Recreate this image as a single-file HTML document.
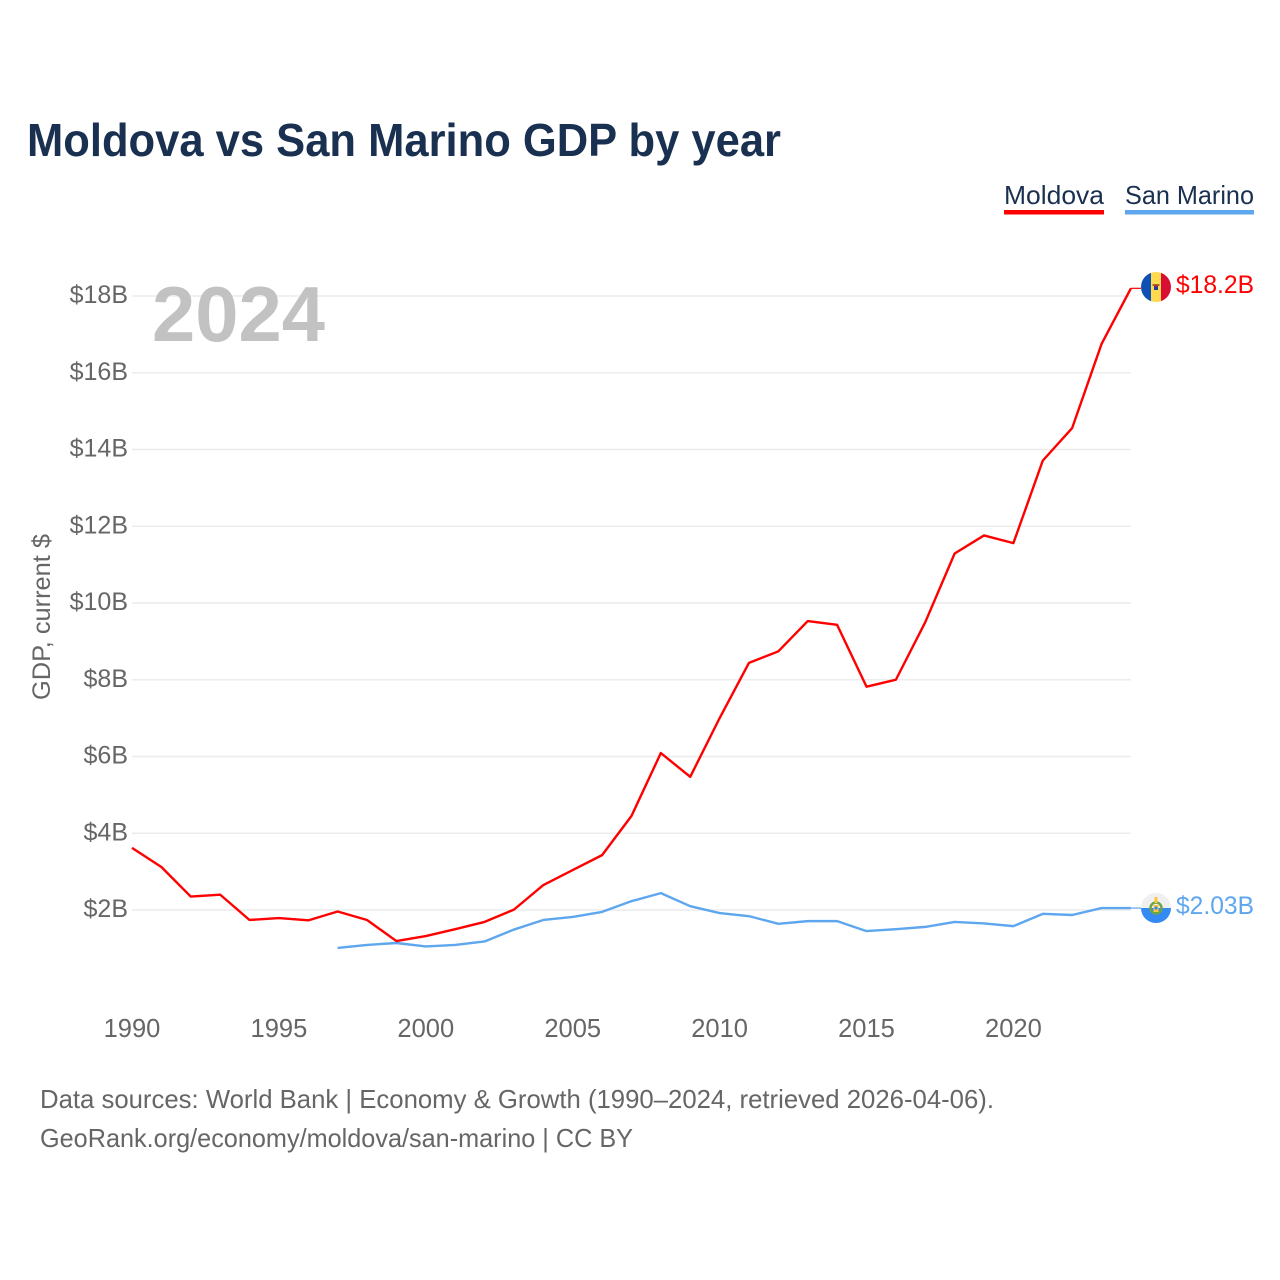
<!DOCTYPE html>
<html lang="en">
<head>
<meta charset="utf-8">
<title>Moldova vs San Marino GDP by year</title>
<style>
html,body{margin:0;padding:0;background:#fff;width:1280px;height:1280px;overflow:hidden}
svg{display:block}
text{font-family:"Liberation Sans",sans-serif}
</style>
</head>
<body>
<svg id="chart" xmlns="http://www.w3.org/2000/svg" width="1280" height="1280" viewBox="0 0 1280 1280">
  <rect x="0" y="0" width="1280" height="1280" fill="#fff"/>
  <text x="27" y="156" font-size="46" font-weight="700" fill="#1a3050" textLength="754" lengthAdjust="spacingAndGlyphs">Moldova vs San Marino GDP by year</text>

  <text x="1004" y="204" font-size="26" fill="#1a3050" textLength="100" lengthAdjust="spacingAndGlyphs">Moldova</text>
  <rect x="1004" y="210" width="100" height="4.5" fill="#ff0000"/>
  <text x="1125" y="204" font-size="26" fill="#1a3050" textLength="129" lengthAdjust="spacingAndGlyphs">San Marino</text>
  <rect x="1125" y="210" width="129" height="4.5" fill="#5ea6ee"/>

  <g id="grid"></g>
  <g id="yticks"></g>
  <g id="xticks"></g>

  <text x="152" y="341" font-size="78" font-weight="700" fill="#c2c2c2" textLength="173" lengthAdjust="spacingAndGlyphs">2024</text>
  <text transform="translate(50,700) rotate(-90)" x="0" y="0" font-size="25" fill="#666" textLength="166" lengthAdjust="spacingAndGlyphs">GDP, current $</text>

  <g id="series"></g>

  <defs>
    <clipPath id="clip-md"><circle cx="1156" cy="287" r="15"/></clipPath>
    <clipPath id="clip-sm"><circle cx="1156" cy="908" r="15"/></clipPath>
  </defs>
  <g id="flag-md" clip-path="url(#clip-md)">
    <rect x="1141" y="272" width="10" height="30" fill="#0f52b4"/>
    <rect x="1151" y="272" width="10" height="30" fill="#ffd950"/>
    <rect x="1161" y="272" width="10" height="30" fill="#d80f32"/>
    <rect x="1152.5" y="284" width="7" height="2" fill="#a5642d"/>
    <rect x="1154" y="286" width="4" height="4" fill="#1f3f8f"/>
    <rect x="1155" y="285" width="2" height="2" fill="#d80f32"/>
  </g>
  <g id="flag-sm" clip-path="url(#clip-sm)">
    <rect x="1141" y="893" width="30" height="15" fill="#f0f0f0"/>
    <rect x="1141" y="908" width="30" height="15" fill="#338af3"/>
    <circle cx="1156" cy="908" r="5.5" fill="none" stroke="#6da544" stroke-width="2.5"/>
    <rect x="1153.5" y="905" width="5" height="7" fill="#ffc43d"/>
    <rect x="1154.5" y="897" width="3" height="6" fill="#ffc43d"/>
    <circle cx="1156" cy="908" r="1.6" fill="#338af3"/>
  </g>

  <text x="1176" y="293" font-size="25" fill="#ff0000" textLength="78" lengthAdjust="spacingAndGlyphs">$18.2B</text>
  <text x="1176" y="914" font-size="25" fill="#5ea6ee" textLength="78" lengthAdjust="spacingAndGlyphs">$2.03B</text>

  <text x="40" y="1108" font-size="26" fill="#666" textLength="954" lengthAdjust="spacingAndGlyphs">Data sources: World Bank | Economy &amp; Growth (1990–2024, retrieved 2026-04-06).</text>
  <text x="40" y="1147" font-size="26" fill="#666" textLength="593" lengthAdjust="spacingAndGlyphs">GeoRank.org/economy/moldova/san-marino | CC BY</text>
</svg>
<script>
const years = [1990,1991,1992,1993,1994,1995,1996,1997,1998,1999,2000,2001,2002,2003,2004,2005,2006,2007,2008,2009,2010,2011,2012,2013,2014,2015,2016,2017,2018,2019,2020,2021,2022,2023,2024];
const moldovaValues = [3.62,3.12,2.35,2.40,1.74,1.79,1.73,1.96,1.74,1.19,1.32,1.50,1.69,2.01,2.65,3.04,3.43,4.45,6.09,5.47,7.00,8.44,8.74,9.53,9.43,7.82,8.00,9.50,11.29,11.76,11.56,13.71,14.56,16.75,18.2];
const sanMarinoValues = [null,null,null,null,null,null,null,1.01,1.09,1.14,1.05,1.09,1.18,1.49,1.74,1.82,1.95,2.23,2.44,2.10,1.92,1.84,1.64,1.71,1.71,1.45,1.50,1.56,1.69,1.65,1.58,1.90,1.87,2.05,2.05];
const yTickValues = [2,4,6,8,10,12,14,16,18];
const xTickValues = [1990,1995,2000,2005,2010,2015,2020];

const SVGNS = 'http://www.w3.org/2000/svg';
function xScale(year){ return 132 + (year - 1990) * 29.38; }
function yScale(v){ return 910 - (v - 2) * 38.375; }

const grid = document.getElementById('grid');
const yticks = document.getElementById('yticks');
yTickValues.forEach(function(v){
  const y = yScale(v);
  const line = document.createElementNS(SVGNS, 'line');
  
  
  line.setAttribute('x1', 132);
  line.setAttribute('x2', 1131);
  line.setAttribute('y1', y);
  line.setAttribute('y2', y);
  line.setAttribute('stroke', '#ececec');
  line.setAttribute('stroke-width', '1.5');
  grid.appendChild(line);
  const t = document.createElementNS(SVGNS, 'text');
  
  
  t.setAttribute('x', 128);
  t.setAttribute('y', y + 7);
  t.setAttribute('text-anchor', 'end');
  t.setAttribute('font-size', '25');
  t.setAttribute('fill', '#666');
  t.textContent = '$' + v + 'B';
  yticks.appendChild(t);
});

const xticks = document.getElementById('xticks');
xTickValues.forEach(function(year){
  const t = document.createElementNS(SVGNS, 'text');
  
  
  t.setAttribute('x', xScale(year));
  t.setAttribute('y', 1037);
  t.setAttribute('text-anchor', 'middle');
  t.setAttribute('font-size', '25.5');
  t.setAttribute('fill', '#666');
  t.textContent = String(year);
  xticks.appendChild(t);
});

function linePoints(values){
  const pts = [];
  values.forEach(function(v, i){
    if (v !== null) pts.push(xScale(years[i]).toFixed(2) + ',' + yScale(v).toFixed(2));
  });
  return pts.join(' ');
}

const seriesGroup = document.getElementById('series');

const sanMarinoLine = document.createElementNS(SVGNS, 'polyline');


sanMarinoLine.setAttribute('points', linePoints(sanMarinoValues));
sanMarinoLine.setAttribute('fill', 'none');
sanMarinoLine.setAttribute('stroke', '#5ea6ee');
sanMarinoLine.setAttribute('stroke-width', '2.4');
sanMarinoLine.setAttribute('stroke-linejoin', 'round');
seriesGroup.appendChild(sanMarinoLine);

const moldovaLine = document.createElementNS(SVGNS, 'polyline');


moldovaLine.setAttribute('points', linePoints(moldovaValues));
moldovaLine.setAttribute('fill', 'none');
moldovaLine.setAttribute('stroke', '#ff0000');
moldovaLine.setAttribute('stroke-width', '2.4');
moldovaLine.setAttribute('stroke-linejoin', 'round');
seriesGroup.appendChild(moldovaLine);

const moldovaConnector = document.createElementNS(SVGNS, 'line');


moldovaConnector.setAttribute('x1', xScale(2024));
moldovaConnector.setAttribute('x2', 1141);
moldovaConnector.setAttribute('y1', yScale(moldovaValues[moldovaValues.length - 1]));
moldovaConnector.setAttribute('y2', yScale(moldovaValues[moldovaValues.length - 1]));
moldovaConnector.setAttribute('stroke', '#ff0000');
moldovaConnector.setAttribute('stroke-width', '1.2');
seriesGroup.appendChild(moldovaConnector);

const sanMarinoConnector = document.createElementNS(SVGNS, 'line');


sanMarinoConnector.setAttribute('x1', xScale(2024));
sanMarinoConnector.setAttribute('x2', 1141);
sanMarinoConnector.setAttribute('y1', yScale(sanMarinoValues[sanMarinoValues.length - 1]));
sanMarinoConnector.setAttribute('y2', yScale(sanMarinoValues[sanMarinoValues.length - 1]));
sanMarinoConnector.setAttribute('stroke', '#5ea6ee');
sanMarinoConnector.setAttribute('stroke-width', '1.2');
seriesGroup.appendChild(sanMarinoConnector);
</script>
</body>
</html>
